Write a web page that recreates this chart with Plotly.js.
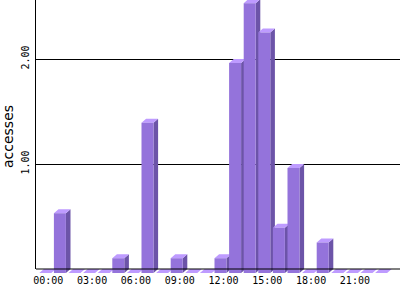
<!DOCTYPE html>
<html>
<head>
<meta charset="utf-8">
<script src="https://cdn.plot.ly/plotly-3.0.1.min.js"></script>
<style>
html,body{margin:0;padding:0;background:#fff;}
#chart{width:400px;height:300px;}
</style>
</head>
<body>
<div id="chart"></div>
<script>
// ---- data ----
const hours = [0,1,2,3,4,5,6,7,8,9,10,11,12,13,14,15,16,17,18,19,20,21,22,23];
const accesses = [0,0.57,0,0,0,0.14,0,1.43,0,0.14,0,0,0.14,2.0,2.57,2.29,0.43,1.0,0,0.29,0,0,0,0];
const tickHours = [0,3,6,9,12,15,18,21];
const tickLabels = ['00:00','03:00','06:00','09:00','12:00','15:00','18:00','21:00'];
const yTickValues = [1,2];
const yTickLabels = ['1.00','2.00'];

// ---- style (pixel geometry of the pseudo-3D bars) ----
const pxPerHour = 14.6, pxPerUnit = 105;
const frontOffset = 9 / pxPerHour;   // front face left edge relative to hour centre
const frontWidth = 12 / pxPerHour;
const dx = 4.6 / pxPerHour;
const dy = 4 / pxPerUnit;

const frontX = [], frontY = [], sideX = [], sideY = [], topX = [], topY = [];
hours.forEach((h, i) => {
  const v = accesses[i];
  const L = h - frontOffset, R = L + frontWidth;
  sideX.push(R, R + dx, R + dx, R, R, null);
  sideY.push(-dy, 0, v, v - dy, -dy, null);
  topX.push(L, R, R + dx, L + dx, L, null);
  topY.push(v - dy, v - dy, v, v, v - dy, null);
  if (v > 0) {
    frontX.push(L, R, R, L, L, null);
    frontY.push(-dy, -dy, v - dy, v - dy, -dy, null);
  }
});

function face(x, y, color) {
  return {type:'scatter', mode:'lines', x:x, y:y, fill:'toself', fillcolor:color,
          line:{width:0, color:color}, hoverinfo:'skip', showlegend:false};
}

const traces = [
  face(sideX, sideY, '#6C54A8'),
  face(topX, topY, '#BE9BFF'),
  face(frontX, frontY, '#9473DB')
];

const W = 364, H = 273;
const yBottom = -4 / pxPerUnit;
const x0 = -12.3 / pxPerHour;
const layout = {
  width: 400, height: 300,
  margin: {l: 36, r: 0, t: 0, b: 27, pad: 0},
  paper_bgcolor: '#fff', plot_bgcolor: '#fff',
  showlegend: false,
  xaxis: {
    range: [x0, x0 + W / pxPerHour],
    tickvals: tickHours, ticktext: tickLabels,
    showgrid: false, zeroline: false, showline: false,
    ticks: '', ticklabelstandoff: 0,
    tickfont: {family: 'DejaVu Sans Mono', size: 10, color: '#000'}
  },
  yaxis: {
    range: [yBottom, yBottom + H / pxPerUnit],
    tickvals: yTickValues, ticktext: yTickLabels,
    tickangle: -90,
    showgrid: true, gridcolor: '#000', gridwidth: 1,
    zeroline: false, showline: false,
    ticks: '', ticklabelstandoff: 4,
    tickfont: {family: 'DejaVu Sans Mono', size: 10, color: '#000'},
    title: {text: 'accesses', font: {family: 'DejaVu Sans', size: 14, color: '#000'}, standoff: 4}
  },
  shapes: [
    {type:'line', layer:'above', xref:'paper', yref:'y', x0:0, x1:1, y0:0, y1:0, line:{color:'#000', width:1}},
    {type:'line', layer:'above', xref:'paper', yref:'y', x0:-0.5/W, x1:-0.5/W, y0:0, y1:yBottom + H / pxPerUnit, line:{color:'#000', width:1}}
  ]
};

Plotly.newPlot('chart', traces, layout, {staticPlot: true, displayModeBar: false});
</script>
</body>
</html>
